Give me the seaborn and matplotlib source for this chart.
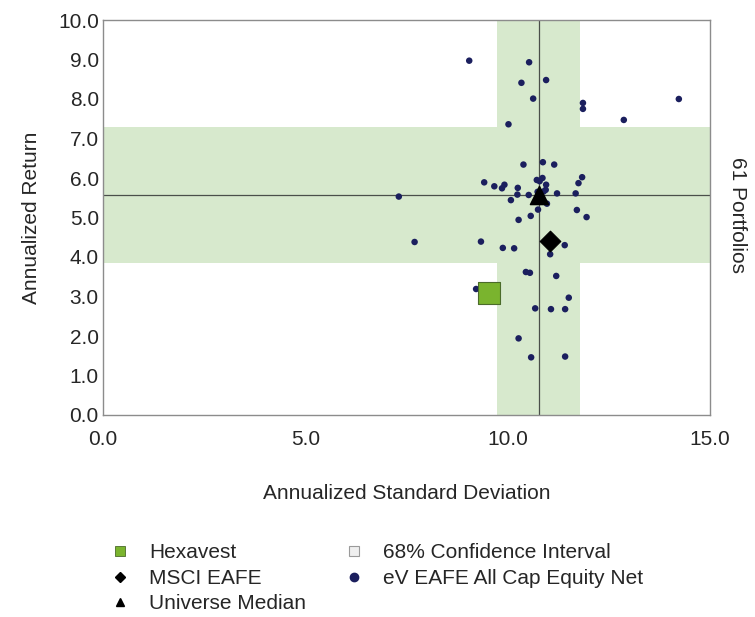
import numpy as np
import pandas as pd
import seaborn as sns
import matplotlib.pyplot as plt
from matplotlib.lines import Line2D

sns.set_style('white')
plt.rcParams['font.family'] = ['Liberation Sans', 'DejaVu Sans']

# universe of portfolios (std dev, return)
peer_sd = [9.05, 10.53, 10.34, 10.95, 10.63, 11.86, 11.86, 14.23, 12.87, 10.02,
           10.39, 10.87, 11.15, 7.31, 9.42, 9.67, 9.86, 9.92, 10.25, 10.24,
           10.52, 10.08, 10.72, 10.86, 10.79, 10.95, 10.94, 10.89, 11.22, 10.97,
           10.75, 10.57, 10.27, 11.84, 11.75, 11.68, 11.71, 11.95, 7.70, 9.34,
           9.88, 10.16, 11.41, 11.05, 10.45, 10.55, 11.20, 9.22, 11.51, 10.68,
           11.07, 11.42, 10.27, 10.58, 11.42, 10.78, 10.82, 10.74, 11.05, 9.55]
peer_ret = [8.97, 8.93, 8.41, 8.48, 8.01, 7.90, 7.75, 8.00, 7.47, 7.36,
            6.34, 6.40, 6.34, 5.53, 5.89, 5.79, 5.74, 5.83, 5.75, 5.58,
            5.57, 5.44, 5.95, 6.00, 5.92, 5.83, 5.70, 5.66, 5.61, 5.35,
            5.20, 5.04, 4.94, 6.02, 5.87, 5.61, 5.19, 5.01, 4.38, 4.39,
            4.23, 4.22, 4.30, 4.07, 3.62, 3.60, 3.52, 3.19, 2.97, 2.70,
            2.68, 2.68, 1.94, 1.46, 1.48, 5.60, 5.52, 5.65, 4.42, 3.10]

hexavest = (9.55, 3.09)
msci_eafe = (11.05, 4.40)
median = (10.78, 5.58)
ci_sd = (9.74, 11.79)
ci_ret = (3.86, 7.30)

x_ticks = [0.0, 5.0, 10.0, 15.0]
y_ticks = [0.0, 1.0, 2.0, 3.0, 4.0, 5.0, 6.0, 7.0, 8.0, 9.0, 10.0]

band_color = '#d7e9cd'
dot_color = '#1b1f5e'
hex_color = '#7ab42e'
fs = 15

peers = pd.DataFrame({'sd': peer_sd, 'ret': peer_ret})

fig = plt.figure(figsize=(7.55, 6.17), dpi=100)
ax = fig.add_axes([103 / 755, 1 - 415 / 617, 607 / 755, 395 / 617])

ax.axvspan(ci_sd[0], ci_sd[1], color=band_color, lw=0, zorder=0)
ax.axhspan(ci_ret[0], ci_ret[1], color=band_color, lw=0, zorder=0)
ax.axvline(median[0], color='#4a4f4a', lw=0.9, zorder=1)
ax.axhline(median[1], color='#4a4f4a', lw=0.9, zorder=1)

sns.scatterplot(data=peers, x='sd', y='ret', ax=ax, color=dot_color, s=22,
                edgecolor='none', zorder=3, legend=False)
sns.scatterplot(x=[hexavest[0]], y=[hexavest[1]], ax=ax, marker='s', s=230,
                color=hex_color, edgecolor='#4b6b2a', linewidth=0.8, zorder=4)
sns.scatterplot(x=[msci_eafe[0]], y=[msci_eafe[1]], ax=ax, marker='D', s=110,
                color='black', edgecolor='black', zorder=4)
sns.scatterplot(x=[median[0]], y=[median[1]], ax=ax, marker='^', s=170,
                color='black', edgecolor='black', zorder=5)

ax.set_xlim(0, 15)
ax.set_ylim(0, 10)
ax.set_xticks(x_ticks)
ax.set_yticks(y_ticks)
ax.set_xticklabels([f'{v:.1f}' for v in x_ticks], fontsize=fs)
ax.set_yticklabels([f'{v:.1f}' for v in y_ticks], fontsize=fs)
ax.tick_params(direction='in', length=5, width=0.8, color='#555555', pad=3)
ax.tick_params(axis='x', pad=11)
for sp in ax.spines.values():
    sp.set_color('#8c8c8c')
    sp.set_linewidth(1.0)

ax.set_xlabel('Annualized Standard Deviation', fontsize=fs, labelpad=25)
ax.set_ylabel('Annualized Return', fontsize=fs, labelpad=12)
fig.text(737 / 755, 1 - 215 / 617, '61 Portfolios', rotation=270,
         ha='center', va='center', fontsize=fs)

handles = [
    Line2D([], [], ls='none', marker='s', ms=7, mfc=hex_color, mec='#4b6b2a', mew=0.6),
    Line2D([], [], ls='none', marker='D', ms=5, mfc='black', mec='black'),
    Line2D([], [], ls='none', marker='^', ms=6, mfc='black', mec='black'),
    Line2D([], [], ls='none', marker='s', ms=7, mfc='#efefef', mec='#9a9a9a', mew=0.8),
    Line2D([], [], ls='none', marker='o', ms=6, mfc=dot_color, mec=dot_color),
]
labels = ['Hexavest', 'MSCI EAFE', 'Universe Median',
          '68% Confidence Interval', 'eV EAFE All Cap Equity Net']
fig.legend(handles, labels, ncol=2, loc='upper left',
           bbox_to_anchor=(101 / 755, 1 - 535 / 617), frameon=False,
           fontsize=fs, handlelength=1.0, handletextpad=0.9,
           columnspacing=1.8, labelspacing=0.31, borderaxespad=0)

fig.savefig('out.png', dpi=100)
